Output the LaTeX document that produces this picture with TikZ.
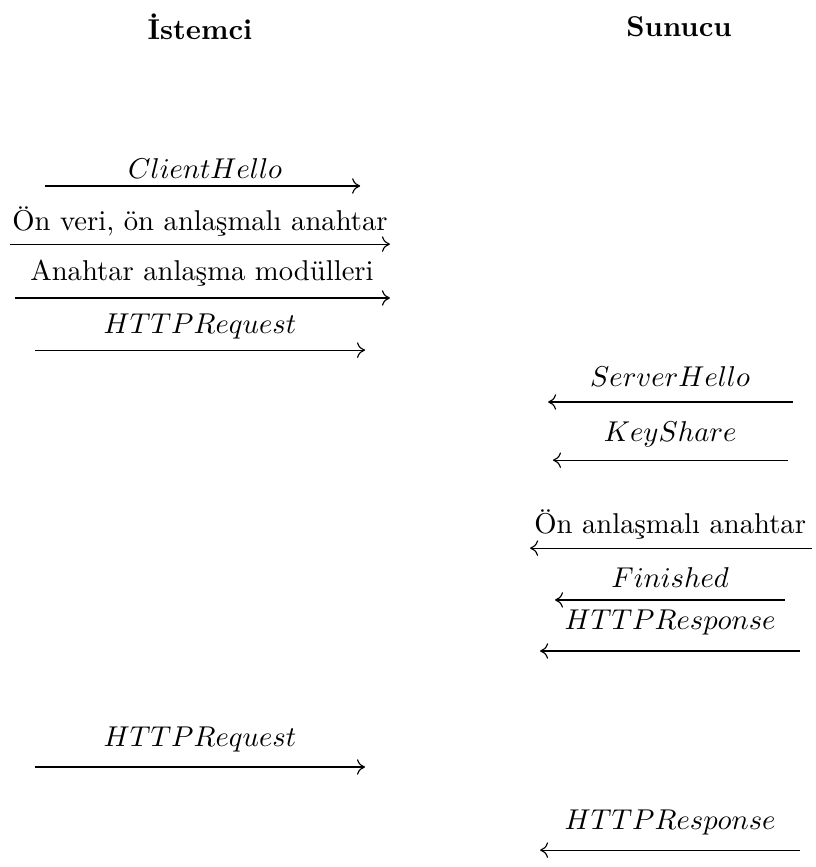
\documentclass[tikz,border=0pt]{standalone}
\usepackage{amsmath}
\usepackage{fontspec}
\usepackage{tikz}
\usetikzlibrary{arrows,arrows.meta}
\tikzstyle{msg} = [-{Computer Modern Rightarrow[length=2.8pt,width=5.4pt]}, line width=0.4pt]
\tikzstyle{lbl} = [inner sep=0pt]

\begin{document}
\begin{tikzpicture}[yscale=-1]
			\useasboundingbox (0pt,0pt) rectangle (284.5pt,302.6pt);
			\node[lbl] (istemci) at (69.8pt,9.4pt) {\textbf{İstemci}};
			\node[lbl] (sunucu) at (237pt,9.4pt) {\textbf{Sunucu}};
			% istemci -> sunucu
			\node[lbl] (clienthello) at (71.6pt,59pt) {$ClientHello$};
			\coordinate (clienthello-a) at (15.7pt,64.9pt);
			\coordinate (clienthello-b) at (125.7pt,64.9pt);
			\draw[msg] (clienthello-a) -- (clienthello-b);
			\node[lbl] (onveri) at (69.8pt,77.2pt) {Ön veri, ön anlaşmalı anahtar};
			\coordinate (onveri-a) at (3.5pt,85.2pt);
			\coordinate (onveri-b) at (136.1pt,85.2pt);
			\draw[msg] (onveri-a) -- (onveri-b);
			\node[lbl] (moduller) at (70.5pt,95.3pt) {Anahtar anlaşma modülleri};
			\coordinate (moduller-a) at (5.2pt,104pt);
			\coordinate (moduller-b) at (136.1pt,104pt);
			\draw[msg] (moduller-a) -- (moduller-b);
			\node[lbl] (request) at (69.8pt,114.1pt) {$HTTPRequest$};
			\coordinate (request-a) at (12.2pt,122.2pt);
			\coordinate (request-b) at (127.4pt,122.2pt);
			\draw[msg] (request-a) -- (request-b);
			% sunucu -> istemci
			\node[lbl] (serverhello) at (233.9pt,131.4pt) {$ServerHello$};
			\coordinate (serverhello-a) at (276.8pt,140.3pt);
			\coordinate (serverhello-b) at (191.3pt,140.3pt);
			\draw[msg] (serverhello-a) -- (serverhello-b);
			\node[lbl] (keyshare) at (233.9pt,151.6pt) {$KeyShare$};
			\coordinate (keyshare-a) at (275pt,160.6pt);
			\coordinate (keyshare-b) at (193pt,160.6pt);
			\draw[msg] (keyshare-a) -- (keyshare-b);
			\node[lbl] (onanlasma) at (233.9pt,183pt) {Ön anlaşmalı anahtar};
			\coordinate (onanlasma-a) at (283.4pt,191.3pt);
			\coordinate (onanlasma-b) at (185pt,191.3pt);
			\draw[msg] (onanlasma-a) -- (onanlasma-b);
			\node[lbl] (finished) at (233.9pt,201.5pt) {$Finished$};
			\coordinate (finished-a) at (274pt,209.4pt);
			\coordinate (finished-b) at (193.7pt,209.4pt);
			\draw[msg] (finished-a) -- (finished-b);
			\node[lbl] (response) at (233.9pt,217.3pt) {$HTTPResponse$};
			\coordinate (response-a) at (279.2pt,227.2pt);
			\coordinate (response-b) at (188.5pt,227.2pt);
			\draw[msg] (response-a) -- (response-b);
			% ikinci istek
			\node[lbl] (request2) at (69.8pt,258.1pt) {$HTTPRequest$};
			\coordinate (request2-a) at (12.2pt,267.7pt);
			\coordinate (request2-b) at (127.4pt,267.7pt);
			\draw[msg] (request2-a) -- (request2-b);
			\node[lbl] (response2) at (233.9pt,287.1pt) {$HTTPResponse$};
			\coordinate (response2-a) at (279.2pt,296.7pt);
			\coordinate (response2-b) at (188.5pt,296.7pt);
			\draw[msg] (response2-a) -- (response2-b);
\end{tikzpicture}
\end{document}
